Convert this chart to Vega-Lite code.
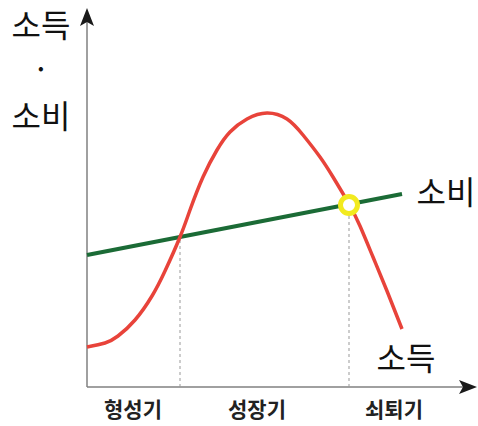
{
  "$schema": "https://vega.github.io/schema/vega-lite/v6.json",
  "width": 478,
  "height": 426,
  "padding": 0,
  "autosize": {"type": "fit", "contains": "padding"},
  "background": "white",
  "config": {"view": {"stroke": null}},
  "datasets": {
    "income": [
      {"t": 0, "v": 40}, {"t": 18, "v": 44}, {"t": 31, "v": 51}, {"t": 48, "v": 67},
      {"t": 65, "v": 91}, {"t": 78, "v": 116}, {"t": 93, "v": 150}, {"t": 103, "v": 177},
      {"t": 116, "v": 210}, {"t": 130, "v": 237}, {"t": 143, "v": 255}, {"t": 160, "v": 268},
      {"t": 180, "v": 274}, {"t": 200, "v": 268}, {"t": 216, "v": 252}, {"t": 233, "v": 230},
      {"t": 246, "v": 210}, {"t": 262, "v": 183}, {"t": 273, "v": 161}, {"t": 286, "v": 130},
      {"t": 300, "v": 96}, {"t": 315, "v": 58}
    ],
    "consumption": [{"t": 0, "v": 132}, {"t": 315, "v": 193}],
    "guides": [{"t": 93, "v0": 0, "v1": 149}, {"t": 262, "v0": 0, "v1": 182}],
    "axes": [
      {"t0": 0, "t1": 0, "v0": 0, "v1": 372},
      {"t0": 0, "t1": 383, "v0": 0, "v1": 0}
    ],
    "arrows": [{"t": 0, "v": 369, "a": 0}, {"t": 380, "v": 0, "a": 90}],
    "meet": [{"t": 262, "v": 182}],
    "big": [
      {"t": -46, "v": 360, "label": "소득"},
      {"t": -46, "v": 316, "label": "·"},
      {"t": -46, "v": 269, "label": "소비"},
      {"t": 359, "v": 193, "label": "소비"},
      {"t": 319, "v": 27, "label": "소득"}
    ],
    "stages": [
      {"t": 46, "v": -24, "label": "형성기"},
      {"t": 170, "v": -24, "label": "성장기"},
      {"t": 307, "v": -24, "label": "쇠퇴기"}
    ]
  },
  "layer": [
    {
      "data": {"name": "axes"},
      "mark": {"type": "rule", "color": "#808080", "strokeWidth": 1.5},
      "encoding": {
        "x": {"field": "t0", "type": "quantitative", "scale": {"domain": [-87, 391], "nice": false, "zero": false}, "axis": null},
        "x2": {"field": "t1"},
        "y": {"field": "v0", "type": "quantitative", "scale": {"domain": [-39, 387], "nice": false, "zero": false}, "axis": null},
        "y2": {"field": "v1"}
      }
    },
    {
      "data": {"name": "arrows"},
      "mark": {"type": "point", "filled": true, "color": "#1a1a1a", "opacity": 1, "size": 400, "shape": "M0,-1L0.7,0.8L0,0.4L-0.7,0.8Z"},
      "encoding": {
        "x": {"field": "t", "type": "quantitative", "scale": {"domain": [-87, 391], "nice": false, "zero": false}, "axis": null},
        "y": {"field": "v", "type": "quantitative", "scale": {"domain": [-39, 387], "nice": false, "zero": false}, "axis": null},
        "angle": {"field": "a", "type": "quantitative", "scale": null}
      }
    },
    {
      "data": {"name": "guides"},
      "mark": {"type": "rule", "color": "#999999", "strokeWidth": 1, "strokeDash": [3, 3]},
      "encoding": {
        "x": {"field": "t", "type": "quantitative", "scale": {"domain": [-87, 391], "nice": false, "zero": false}, "axis": null},
        "y": {"field": "v0", "type": "quantitative", "scale": {"domain": [-39, 387], "nice": false, "zero": false}, "axis": null},
        "y2": {"field": "v1"}
      }
    },
    {
      "data": {"name": "consumption"},
      "mark": {"type": "line", "color": "#1b6b36", "strokeWidth": 4},
      "encoding": {
        "x": {"field": "t", "type": "quantitative", "scale": {"domain": [-87, 391], "nice": false, "zero": false}, "axis": null},
        "y": {"field": "v", "type": "quantitative", "scale": {"domain": [-39, 387], "nice": false, "zero": false}, "axis": null}
      }
    },
    {
      "data": {"name": "income"},
      "mark": {"type": "line", "color": "#e8433a", "strokeWidth": 3.5, "interpolate": "natural"},
      "encoding": {
        "x": {"field": "t", "type": "quantitative", "scale": {"domain": [-87, 391], "nice": false, "zero": false}, "axis": null},
        "y": {"field": "v", "type": "quantitative", "scale": {"domain": [-39, 387], "nice": false, "zero": false}, "axis": null}
      }
    },
    {
      "data": {"name": "meet"},
      "mark": {"type": "point", "shape": "circle", "filled": true, "fill": "white", "stroke": "#f2ea1f", "strokeWidth": 5, "opacity": 1, "size": 289},
      "encoding": {
        "x": {"field": "t", "type": "quantitative", "scale": {"domain": [-87, 391], "nice": false, "zero": false}, "axis": null},
        "y": {"field": "v", "type": "quantitative", "scale": {"domain": [-39, 387], "nice": false, "zero": false}, "axis": null}
      }
    },
    {
      "data": {"name": "big"},
      "mark": {"type": "text", "font": "Noto Sans CJK KR", "fontSize": 32, "fontWeight": "normal", "color": "#111111", "align": "center", "baseline": "middle"},
      "encoding": {
        "x": {"field": "t", "type": "quantitative", "scale": {"domain": [-87, 391], "nice": false, "zero": false}, "axis": null},
        "y": {"field": "v", "type": "quantitative", "scale": {"domain": [-39, 387], "nice": false, "zero": false}, "axis": null},
        "text": {"field": "label"}
      }
    },
    {
      "data": {"name": "stages"},
      "mark": {"type": "text", "font": "Noto Sans CJK KR", "fontSize": 21, "fontWeight": "bold", "color": "#222222", "align": "center", "baseline": "middle"},
      "encoding": {
        "x": {"field": "t", "type": "quantitative", "scale": {"domain": [-87, 391], "nice": false, "zero": false}, "axis": null},
        "y": {"field": "v", "type": "quantitative", "scale": {"domain": [-39, 387], "nice": false, "zero": false}, "axis": null},
        "text": {"field": "label"}
      }
    }
  ]
}
